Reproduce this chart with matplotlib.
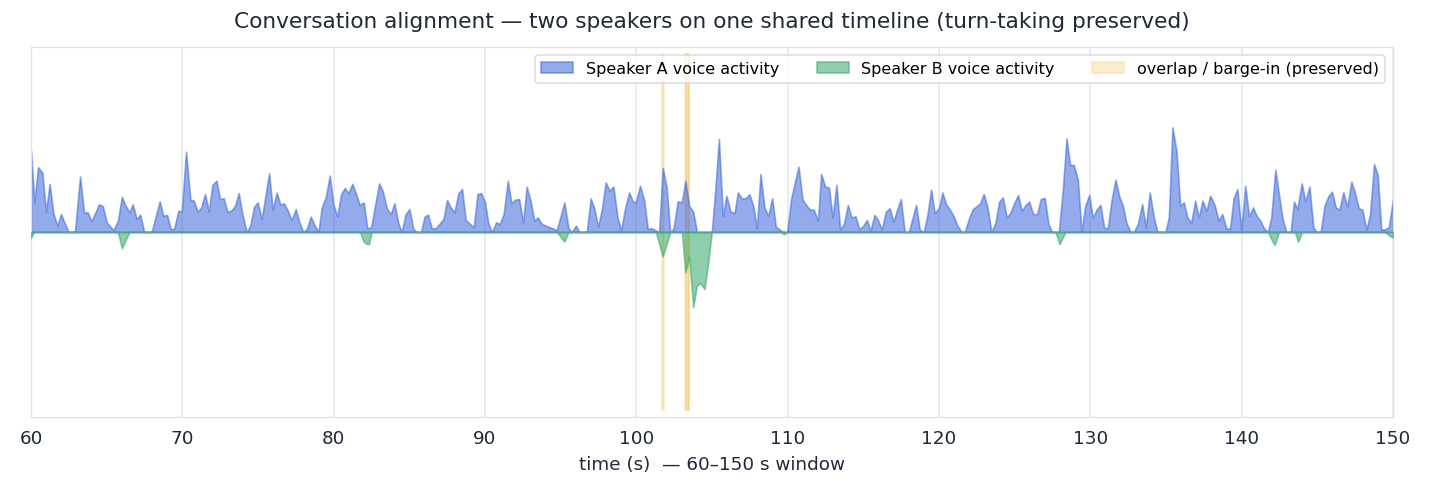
import numpy as np
import matplotlib
matplotlib.use("Agg")
import matplotlib.pyplot as plt

# (time s, activity level) vertices
speaker_a = [
    (60.0, 0.44), (60.22, 0.16), (60.46, 0.35), (60.75, 0.32), (60.99, 0.11), (61.23, 0.26),
    (61.48, 0.10), (61.74, 0.034), (61.98, 0.097), (62.47, 0.0), (62.9, 0.0), (63.24, 0.30),
    (63.5, 0.106), (63.74, 0.106), (64.0, 0.058), (64.49, 0.15), (64.74, 0.14), (65.0, 0.052),
    (65.44, 0.01), (65.74, 0.06), (66.0, 0.19), (66.26, 0.14), (66.5, 0.106), (66.72, 0.15),
    (66.98, 0.07), (67.22, 0.094), (67.47, 0.0), (67.97, 0.0), (68.5, 0.166), (68.74, 0.088),
    (68.99, 0.092), (69.23, 0.016), (69.45, 0.016), (69.74, 0.115), (69.96, 0.11), (70.24, 0.434),
    (70.53, 0.173), (70.75, 0.17), (71.01, 0.11), (71.23, 0.13), (71.5, 0.205), (71.74, 0.11),
    (71.98, 0.254), (72.25, 0.277), (72.49, 0.178), (72.73, 0.182), (72.97, 0.11), (73.22, 0.115),
    (73.48, 0.142), (73.72, 0.21), (73.96, 0.097), (74.25, 0.0), (74.49, 0.034), (74.74, 0.137),
    (74.98, 0.16), (75.24, 0.07), (75.73, 0.317), (75.97, 0.12), (76.23, 0.213), (76.48, 0.148),
    (76.72, 0.155), (76.96, 0.115), (77.22, 0.065), (77.49, 0.124), (77.73, 0.052), (77.99, 0.0),
    (78.22, 0.016), (78.48, 0.083), (78.72, 0.04), (78.99, 0.0), (79.21, 0.133), (79.47, 0.187),
    (79.74, 0.305), (79.98, 0.148), (80.24, 0.085), (80.49, 0.205), (80.73, 0.238), (80.97, 0.21),
    (81.23, 0.26), (81.48, 0.205), (81.72, 0.146), (81.98, 0.16), (82.22, 0.02), (82.47, 0.025),
    (83.0, 0.263), (83.24, 0.22), (83.5, 0.13), (83.77, 0.097), (84.01, 0.155), (84.27, 0.047),
    (84.49, 0.0), (84.74, 0.094), (85.0, 0.124), (85.26, 0.016), (85.49, 0.0), (85.77, 0.0),
    (86.0, 0.083), (86.23, 0.094), (86.48, 0.02), (86.74, 0.02), (87.25, 0.07), (87.49, 0.173),
    (87.73, 0.133), (87.97, 0.106), (88.24, 0.21), (88.48, 0.232), (88.72, 0.065), (89.25, 0.025),
    (89.5, 0.205), (89.74, 0.21), (90.0, 0.16), (90.22, 0.043), (90.46, 0.0), (90.73, 0.052),
    (90.97, 0.043), (91.23, 0.097), (91.5, 0.277), (91.74, 0.155), (91.98, 0.175), (92.25, 0.178),
    (92.51, 0.052), (92.75, 0.245), (93.0, 0.17), (93.26, 0.061), (93.48, 0.079), (93.75, 0.043),
    (94.3, 0.025), (94.74, 0.01), (95.24, 0.16), (95.51, 0.02), (95.73, 0.0), (96.0, 0.034),
    (96.23, 0.0), (96.72, 0.0), (96.98, 0.182), (97.23, 0.124), (97.47, 0.029), (97.71, 0.119),
    (97.97, 0.268), (98.22, 0.223), (98.48, 0.245), (98.75, 0.079), (98.99, 0.01), (99.25, 0.128),
    (99.52, 0.214), (99.76, 0.166), (99.96, 0.16), (100.24, 0.25), (100.51, 0.173), (100.75, 0.016),
    (101.01, 0.02), (101.23, 0.01), (101.5, 0.0), (101.74, 0.346), (102.0, 0.24), (102.23, 0.0),
    (102.45, 0.016), (102.73, 0.166), (103.0, 0.16), (103.24, 0.277), (103.48, 0.142), (103.75, 0.11),
    (104.0, 0.0), (104.5, 0.0), (104.98, 0.0), (105.2, 0.214), (105.45, 0.503), (105.71, 0.088),
    (105.95, 0.196), (106.22, 0.11), (106.48, 0.103), (106.7, 0.214), (106.97, 0.182), (107.21, 0.182),
    (107.47, 0.204), (107.72, 0.142), (107.96, 0.02), (108.2, 0.313), (108.46, 0.133), (108.71, 0.088),
    (108.97, 0.182), (109.21, 0.03), (109.46, 0.013), (109.7, 0.0), (109.96, 0.0), (110.23, 0.182),
    (110.47, 0.268), (110.71, 0.353), (110.98, 0.175), (111.22, 0.146), (111.46, 0.121), (111.72, 0.121),
    (111.99, 0.061), (112.21, 0.313), (112.47, 0.245), (112.72, 0.241), (112.96, 0.079), (113.22, 0.254),
    (113.46, 0.013), (113.71, 0.043), (113.97, 0.146), (114.21, 0.079), (114.48, 0.085), (114.72, 0.016),
    (114.96, 0.03), (115.23, 0.065), (115.47, 0.007), (115.73, 0.092), (115.95, 0.067), (116.22, 0.013),
    (116.48, 0.11), (116.74, 0.128), (116.98, 0.056), (117.23, 0.121), (117.47, 0.178), (117.73, 0.0),
    (118.0, 0.0), (118.48, 0.146), (118.72, 0.013), (118.99, 0.0), (119.23, 0.092), (119.47, 0.229),
    (119.71, 0.103), (119.98, 0.128), (120.22, 0.214), (120.46, 0.151), (120.71, 0.121), (120.95, 0.088),
    (121.21, 0.034), (121.48, 0.0), (121.7, 0.0), (121.96, 0.07), (122.23, 0.124), (122.47, 0.139),
    (122.71, 0.155), (122.95, 0.205), (123.2, 0.133), (123.46, 0.0), (123.72, 0.049), (123.97, 0.164),
    (124.21, 0.187), (124.47, 0.079), (124.71, 0.103), (124.96, 0.155), (125.22, 0.2), (125.46, 0.115),
    (125.71, 0.146), (125.95, 0.164), (126.21, 0.097), (126.48, 0.097), (126.72, 0.178), (126.98, 0.184),
    (127.23, 0.043), (127.47, 0.0), (127.91, 0.0), (128.18, 0.232), (128.42, 0.506), (128.66, 0.362),
    (128.9, 0.362), (129.17, 0.283), (129.41, 0.0), (129.65, 0.139), (129.92, 0.2), (130.16, 0.074),
    (130.4, 0.121), (130.66, 0.146), (130.91, 0.023), (131.15, 0.02), (131.39, 0.169), (131.66, 0.283),
    (131.9, 0.193), (132.14, 0.142), (132.38, 0.049), (132.65, 0.0), (132.87, 0.0), (133.13, 0.043),
    (133.42, 0.151), (133.66, 0.025), (133.92, 0.214), (134.19, 0.079), (134.43, 0.0), (134.96, 0.0),
    (135.18, 0.079), (135.42, 0.566), (135.69, 0.434), (135.93, 0.142), (136.17, 0.16), (136.41, 0.079),
    (136.66, 0.049), (136.92, 0.169), (137.16, 0.079), (137.4, 0.169), (137.67, 0.115), (137.91, 0.196),
    (138.21, 0.146), (138.47, 0.061), (138.71, 0.097), (138.98, 0.02), (139.22, 0.016), (139.46, 0.182),
    (139.71, 0.232), (139.97, 0.013), (140.23, 0.25), (140.48, 0.085), (140.74, 0.133), (140.98, 0.088),
    (141.23, 0.061), (141.47, 0.02), (141.73, 0.0), (141.95, 0.079), (142.22, 0.337), (142.46, 0.2),
    (142.7, 0.07), (142.94, 0.0), (143.23, 0.0), (143.45, 0.164), (143.67, 0.124), (143.96, 0.263),
    (144.2, 0.164), (144.47, 0.245), (144.73, 0.025), (144.95, 0.0), (145.21, 0.0), (145.48, 0.146),
    (145.72, 0.193), (145.96, 0.218), (146.21, 0.133), (146.45, 0.121), (146.71, 0.214), (146.98, 0.139),
    (147.24, 0.272), (147.46, 0.218), (147.73, 0.128), (147.97, 0.121), (148.23, 0.013), (148.47, 0.092),
    (148.74, 0.368), (148.98, 0.308), (149.22, 0.013), (149.49, 0.016), (149.71, 0.025), (150.0, 0.18),
]

# speaker B activity (drawn below the axis)
speaker_b = [
    (60.0, 0.03), (60.2, 0.0), (65.74, 0.0), (66.0, 0.088), (66.5, 0.0), (81.74, 0.0),
    (81.96, 0.05), (82.18, 0.065), (82.33, 0.065), (82.5, 0.0), (94.74, 0.0), (95.24, 0.052),
    (95.51, 0.0), (101.28, 0.0), (101.74, 0.133), (102.23, 0.0), (103.0, 0.0), (103.24, 0.218),
    (103.48, 0.133), (103.75, 0.407), (104.0, 0.29), (104.23, 0.277), (104.5, 0.308), (104.76, 0.155),
    (104.98, 0.0), (109.5, 0.0), (109.75, 0.012), (109.95, 0.0), (127.69, 0.0), (127.96, 0.065),
    (128.35, 0.0), (141.73, 0.0), (141.99, 0.045), (142.17, 0.07), (142.46, 0.0), (143.5, 0.0),
    (143.72, 0.052), (143.98, 0.0), (149.44, 0.0), (149.77, 0.02), (150.0, 0.03),
]

overlaps = [(101.7, 101.8), (103.22, 103.5), (103.3, 103.45)]
xticks = [60, 70, 80, 90, 100, 110, 120, 130, 140, 150]

ta, va = np.array(speaker_a).T
tb, vb = np.array(speaker_b).T

fig = plt.figure(figsize=(13, 4.49), dpi=110)
ax = fig.add_axes([0.0217, 0.154, 0.9525, 0.749])

ax.fill_between(ta, 0, va, color="#3b66dc", alpha=0.55, lw=1.1,
                label="Speaker A voice activity", zorder=2)
ax.fill_between(tb, 0, -vb, color="#33a766", alpha=0.55, lw=1.1,
                label="Speaker B voice activity", zorder=3)

for i, (s, e) in enumerate(overlaps):
    ax.axvspan(s, e, ymin=0.02, ymax=0.98, color="#f5b642", alpha=0.25, lw=1,
               label="overlap / barge-in (preserved)" if i == 0 else None, zorder=1)

ax.set_xlim(60, 150)
ax.set_ylim(-1, 1)
ax.set_xticks(xticks)
ax.set_yticks([])
ax.tick_params(axis="x", length=0, labelsize=12, colors="#1f2937", pad=8)
ax.grid(axis="x", color="#e5e7eb", lw=1)
ax.set_axisbelow(True)
for sp in ax.spines.values():
    sp.set_color("#dde1e8")

ax.set_title("Conversation alignment — two speakers on one shared timeline (turn-taking preserved)",
             fontsize=14.2, color="#1f2937", pad=13)
ax.set_xlabel("time (s)  — 60–150 s window", fontsize=12, color="#1f2937", labelpad=5)

leg = ax.legend(loc="upper right", ncol=3, fontsize=10.5, frameon=True,
                columnspacing=2.3)
leg.get_frame().set_edgecolor("#d0d4db")

fig.savefig("out.png", dpi=110)
